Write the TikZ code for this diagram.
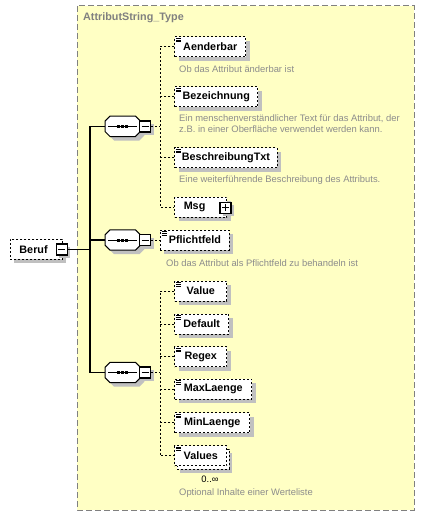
\documentclass[tikz,border=0pt]{standalone}
\usepackage{fontspec}
\setmainfont{Liberation Sans}
\usetikzlibrary{shadows}

\definecolor{typeYellow}{HTML}{FFFFC4}
\definecolor{typeBorder}{HTML}{808080}
\definecolor{docGray}{HTML}{8C8C8C}
\definecolor{shadowGray}{HTML}{C0C0C0}

\begin{document}
\begin{tikzpicture}[x = 1pt, y = -1pt]
\tikzstyle{labelFont} = [font = \fontsize{10.8}{12}\selectfont\bfseries]
\tikzstyle{docStyle} = [anchor = west, inner sep = 0pt, align = left, text = docGray, font = \fontsize{9.4}{11.5}\selectfont]
\tikzstyle{grayShadow} = [drop shadow = {shadow xshift = 4pt, shadow yshift = -4pt, fill = shadowGray, opacity = 1}]
\tikzstyle{docIcon} = [path picture = {\foreach \k in {1.5, 3.3, 5.1} \draw[solid, line width = 0.8pt] ([xshift = 1.2pt, yshift = -\k pt]path picture bounding box.north west) -- ++(5pt, 0);}]
\tikzstyle{elementBase} = [shape = rectangle, anchor = west, minimum height = 20pt, inner xsep = 7pt, inner ysep = 0pt, draw, line width = 0.9pt, dash pattern = on 2pt off 2pt, fill = white, labelFont]
\tikzstyle{elementStyle} = [elementBase, grayShadow]
\tikzstyle{docElementStyle} = [elementBase, grayShadow, docIcon]
\tikzstyle{multiElementStyle} = [elementBase, docIcon, drop shadow = {shadow xshift = 5.5pt, shadow yshift = -7.5pt, fill = shadowGray, opacity = 1}, copy shadow = {shadow xshift = 2.5pt, shadow yshift = -3.5pt, dash pattern = on 2pt off 2pt, line width = 0.9pt}]
\tikzstyle{sequenceStyle} = [shape = rectangle, minimum width = 35pt, minimum height = 20pt, inner sep = 0pt, anchor = west]
\tikzstyle{octagonStyle} = [draw, line width = 1pt, fill = white, grayShadow]
\tikzstyle{toggleStyle} = [shape = rectangle, minimum size = 11pt, inner sep = 0pt, draw, line width = 1.2pt, fill = white, drop shadow = {shadow xshift = 3pt, shadow yshift = -3pt, fill = shadowGray, opacity = 1}]
\tikzstyle{minusStyle} = [toggleStyle, path picture = {\draw[line width = 1pt] ([xshift = -3.5pt]path picture bounding box.center) -- ([xshift = 3.5pt]path picture bounding box.center);}]
\tikzstyle{plusStyle} = [toggleStyle, path picture = {\draw[line width = 1pt] ([xshift = -3.5pt]path picture bounding box.center) -- ([xshift = 3.5pt]path picture bounding box.center) ([yshift = -3.5pt]path picture bounding box.center) -- ([yshift = 3.5pt]path picture bounding box.center);}]
\tikzstyle{solidLink} = [line width = 1.1pt]
\tikzstyle{dashLink} = [line width = 0.9pt, dash pattern = on 2pt off 2pt]

\useasboundingbox (0, 0) rectangle (425, 516);
\draw[fill = typeYellow, draw = typeBorder, line width = 1pt, dash pattern = on 6pt off 3pt] (77, 6) rectangle (414, 510);
\node[anchor = west, inner sep = 0pt, text = typeBorder, font = \fontsize{10.8}{12}\selectfont\bfseries] (typeTitle) at (83, 17.7) {AttributString\_Type};

\node[elementStyle, text width = 34pt, inner xsep = 9pt] (beruf) at (10, 249.2) {Beruf};
\node[minusStyle] (berufMinus) at (61.8, 249.5) {};

\node[sequenceStyle] (seqA) at (105, 126.3) {};
\node[sequenceStyle] (seqB) at (105, 240) {};
\node[sequenceStyle] (seqC) at (105, 372.5) {};
% sequence compositors
\foreach \s in {seqA, seqB, seqC} {
  \draw[octagonStyle] ([xshift = 5pt]\s.north west) -- ([xshift = -5pt]\s.north east) -- ([yshift = -5pt]\s.north east) -- ([yshift = 5pt]\s.south east) -- ([xshift = -5pt]\s.south east) -- ([xshift = 5pt]\s.south west) -- ([yshift = 5pt]\s.south west) -- ([yshift = -5pt]\s.north west) -- cycle;
  \draw[line width = 1pt] ([xshift = 3pt]\s.west) -- ([xshift = -3pt]\s.east);
  \foreach \d in {-4, 0, 4} \fill ([xshift = \d pt]\s.center) ++(-1.5pt, -1.5pt) rectangle ++(3pt, 3pt);
}
\node[minusStyle] (minA) at (145.2, 126.5) {};
\node[minusStyle] (minB) at (145.2, 240) {};
\node[minusStyle] (minC) at (145.2, 372.5) {};

\node[docElementStyle, minimum width = 71pt] (aend) at (174.3, 46.7) {Aenderbar};
\node[docStyle] (aendDoc) at (179, 69) {Ob das Attribut änderbar ist};
\node[docElementStyle, minimum width = 83pt] (bez) at (174.3, 96.7) {Bezeichnung};
\node[docStyle] (bezDoc) at (179, 123.8) {Ein menschenverständlicher Text für das Attribut, der\\z.B. in einer Oberfläche verwendet werden kann.};
\node[docElementStyle, minimum width = 102pt] (besch) at (174.3, 157.7) {BeschreibungTxt};
\node[docStyle] (beschDoc) at (179, 180) {Eine weiterführende Beschreibung des Attributs.};
\node[elementStyle, text width = 34pt, inner xsep = 9pt] (msg) at (174.3, 207.3) {Msg};
\node[plusStyle] (msgPlus) at (225.5, 207.7) {};

\node[docElementStyle, minimum width = 69pt] (pflicht) at (160, 240) {Pflichtfeld};
\node[docStyle] (pflichtDoc) at (166, 262.7) {Ob das Attribut als Pflichtfeld zu behandeln ist};

\node[docElementStyle, minimum width = 52pt] (value) at (174.3, 291) {Value};
\node[docElementStyle, minimum width = 54pt] (default) at (174.3, 324) {Default};
\node[docElementStyle, minimum width = 52pt] (regex) at (174.3, 356.7) {Regex};
\node[docElementStyle, minimum width = 77pt] (maxl) at (174.3, 389.3) {MaxLaenge};
\node[docElementStyle, minimum width = 75pt] (minl) at (174.3, 422.7) {MinLaenge};
\node[multiElementStyle, minimum width = 52pt] (values) at (174.3, 455.5) {Values};
\node[inner sep = 0pt, font = \fontsize{9.4}{11.5}\selectfont] (valuesOcc) at (210, 479) {0..∞};
\node[docStyle] (valuesDoc) at (179, 493) {Optional Inhalte einer Werteliste};

\coordinate (trunk) at (90, 249.5);
\coordinate (busA) at (160, 126.5);
\coordinate (busC) at (160, 372.5);
\draw[solidLink] (berufMinus.east) -- (berufMinus.east -| trunk);
\draw[solidLink] (seqA.west) -- (seqA.west -| trunk) -- (seqC.west -| trunk) -- (seqC.west);
\draw[solidLink] (seqB.west) -- (seqB.west -| trunk);
\draw[dashLink] (minA.east) -- (busA);
\draw[dashLink] (aend.west) -- (aend.west -| busA) -- (msg.west -| busA) -- (msg.west);
\draw[dashLink] (bez.west) -- (bez.west -| busA);
\draw[dashLink] (besch.west) -- (besch.west -| busA);
\draw[dashLink] (minB.east) -- (pflicht.west);
\draw[dashLink] (minC.east) -- (busC);
\draw[dashLink] (value.west) -- (value.west -| busC) -- (values.west -| busC) -- (values.west);
\draw[dashLink] (default.west) -- (default.west -| busC);
\draw[dashLink] (regex.west) -- (regex.west -| busC);
\draw[dashLink] (maxl.west) -- (maxl.west -| busC);
\draw[dashLink] (minl.west) -- (minl.west -| busC);
\end{tikzpicture}
\end{document}
